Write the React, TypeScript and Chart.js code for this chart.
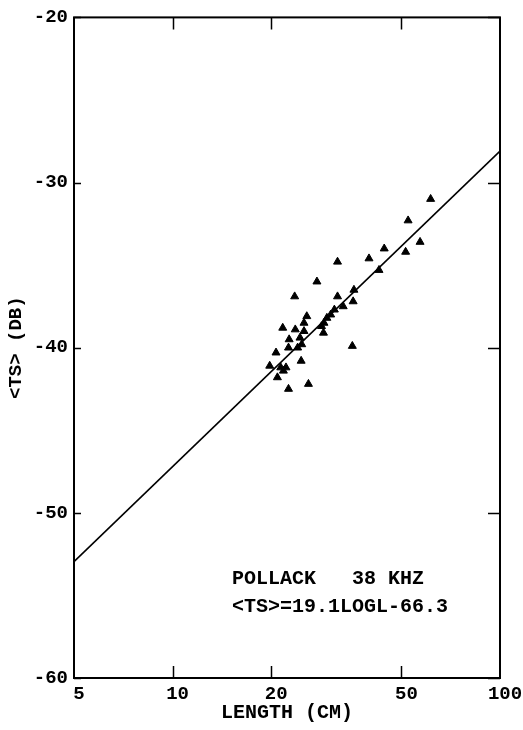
import React, { useEffect, useRef } from "react";
import { Chart, registerables } from "chart.js";

Chart.register(...registerables);

// Measured fish: length (cm) and mean target strength (dB)
const lengthCm = [
  61.4, 52.4, 57.0, 44.3, 51.5, 39.8, 31.9, 42.7, 27.6, 35.8,
  23.6, 31.9, 35.6, 33.2, 31.2, 30.4, 29.6, 25.7, 25.2, 29.0,
  28.5, 21.7, 23.7, 25.2, 28.9, 24.5, 22.7, 24.8, 22.6, 24.1,
  35.4, 20.7, 24.7, 19.8, 21.4, 22.2, 21.8, 20.9, 26.0, 22.6,
];
const tsDb = [
  -31.0, -32.3, -33.6, -34.0, -34.2, -34.6, -34.8, -35.3, -36.0, -36.5,
  -36.9, -36.9, -37.2, -37.5, -37.7, -38.0, -38.2, -38.1, -38.5, -38.5,
  -38.7, -38.8, -38.9, -39.0, -39.1, -39.4, -39.5, -39.8, -40.0, -40.0,
  -39.9, -40.3, -40.8, -41.1, -41.2, -41.2, -41.4, -41.8, -42.2, -42.5,
];

// Regression line <TS> = 19.1 log L - 66.3, end points at the axis limits
const fitLength = [5, 100];
const fitTs = [-52.95, -28.1];

const xTickValues = [5, 10, 20, 50, 100];
const xInnerMarks = [10, 20, 50];
const yTickValues = [-60, -50, -40, -30, -20];

const xTitle = "LENGTH (CM)";
const yTitle = "<TS> (DB)";
const noteLines = ["POLLACK   38 KHZ", "<TS>=19.1LOGL-66.3"];

const FONT = '"Liberation Mono", "DejaVu Sans Mono", monospace';

const framePlugin = {
  id: "frame",
  afterDraw(chart: any) {
    const { ctx, chartArea: a, scales } = chart;
    const x = scales.x;
    const y = scales.y;
    ctx.save();
    ctx.strokeStyle = "#000";
    ctx.lineWidth = 2;
    ctx.strokeRect(a.left, a.top, a.right - a.left, a.bottom - a.top);
    ctx.lineWidth = 1.5;
    const L = 12;
    ctx.beginPath();
    xInnerMarks.forEach((v) => {
      const px = Math.round(x.getPixelForValue(v)) + 0.5;
      ctx.moveTo(px, a.top);
      ctx.lineTo(px, a.top + L);
      ctx.moveTo(px, a.bottom);
      ctx.lineTo(px, a.bottom - L);
    });
    yTickValues.forEach((v) => {
      const py = Math.round(y.getPixelForValue(v)) + 0.5;
      ctx.moveTo(a.left, py);
      ctx.lineTo(a.left + 7, py);
      ctx.moveTo(a.right, py);
      ctx.lineTo(a.right - L, py);
    });
    ctx.stroke();

    ctx.fillStyle = "#000";
    ctx.font = "bold 20px " + FONT;
    ctx.textBaseline = "middle";
    ctx.textAlign = "left";
    ctx.fillText(noteLines[0], a.left + 158, a.top + 562);
    ctx.fillText(noteLines[1], a.left + 158, a.top + 590);
    ctx.restore();
  },
};

export default function App() {
  const ref = useRef<HTMLCanvasElement | null>(null);

  useEffect(() => {
    if (!ref.current) return;
    const scatterPts = lengthCm.map((l, i) => ({ x: l, y: tsDb[i] }));
    const linePts = fitLength.map((l, i) => ({ x: l, y: fitTs[i] }));
    const chart = new Chart(ref.current, {
      type: "scatter",
      data: {
        datasets: [
          {
            label: "fit",
            data: linePts,
            showLine: true,
            borderColor: "#000",
            borderWidth: 1.6,
            pointRadius: 0,
            fill: false,
          },
          {
            label: "pollack",
            data: scatterPts,
            pointStyle: "triangle",
            pointRadius: 4.6,
            backgroundColor: "#000",
            borderColor: "#000",
            borderWidth: 1,
          },
        ],
      },
      options: {
        responsive: false,
        animation: false,
        layout: { padding: { top: 15, right: 23, left: 0, bottom: 0 } },
        plugins: {
          legend: { display: false },
          tooltip: { enabled: false },
        },
        scales: {
          x: {
            type: "logarithmic",
            min: 5,
            max: 100,
            border: { display: false },
            grid: { display: false, drawTicks: false },
            afterBuildTicks: (scale: any) => {
              scale.ticks = xTickValues.map((v) => ({ value: v }));
            },
            afterFit: (scale: any) => {
              scale.height = 52;
            },
            ticks: {
              color: "#000",
              font: { family: FONT, size: 19, weight: "bold" },
              padding: 5,
              labelOffset: 5,
              maxRotation: 0,
              autoSkip: false,
              callback: (v: any) => String(v),
            },
            title: {
              display: true,
              text: xTitle,
              color: "#000",
              font: { family: FONT, size: 20, weight: "bold" },
              padding: { top: 0, bottom: 5 },
            },
          },
          y: {
            min: -60,
            max: -20,
            border: { display: false },
            grid: { display: false, drawTicks: false },
            afterBuildTicks: (scale: any) => {
              scale.ticks = yTickValues.map((v) => ({ value: v }));
            },
            afterFit: (scale: any) => {
              scale.width = 74;
            },
            ticks: {
              color: "#000",
              font: { family: FONT, size: 19, weight: "bold" },
              padding: 6,
              callback: (v: any) => String(v),
            },
            title: {
              display: true,
              text: yTitle,
              color: "#000",
              font: { family: FONT, size: 19, weight: "bold" },
              padding: { top: 5, bottom: 0 },
            },
          },
        },
      },
      plugins: [framePlugin],
    });
    return () => chart.destroy();
  }, []);

  return (
    <div style={{ position: "absolute", left: 0, top: 0, width: 523, height: 730, background: "#fff" }}>
      <canvas ref={ref} width={523} height={730} style={{ display: "block" }} />
    </div>
  );
}
